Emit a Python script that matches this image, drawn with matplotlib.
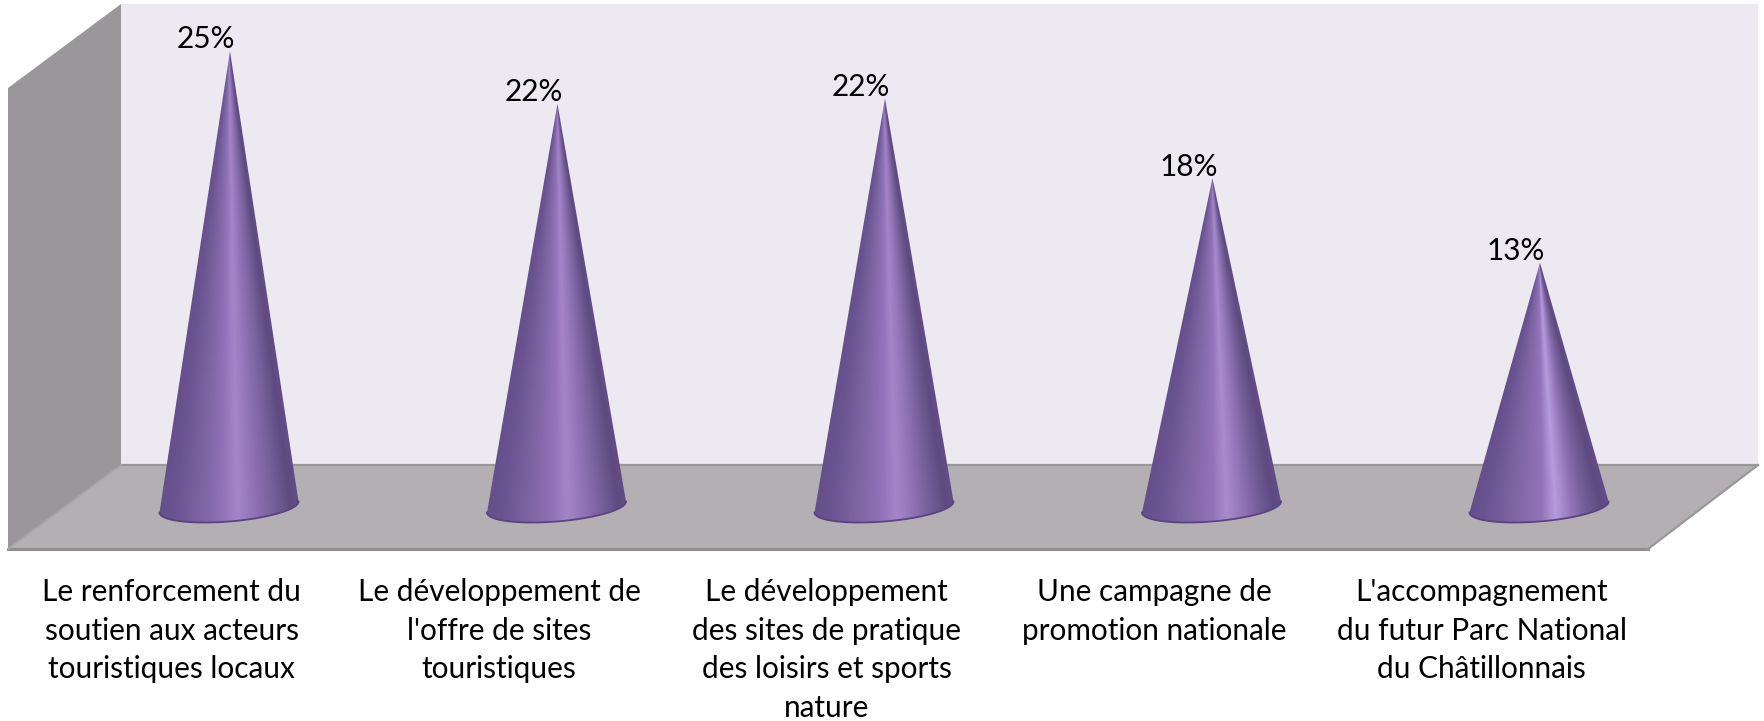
"""Cone chart: priorities for tourism in the Chatillonnais."""
import numpy as np
import matplotlib
matplotlib.use("Agg")
import matplotlib.pyplot as plt
from matplotlib.colors import LinearSegmentedColormap
from matplotlib.patches import Polygon, PathPatch
from matplotlib.path import Path

W, H = 1765, 721
plt.rcParams["font.family"] = ["Lato", "DejaVu Sans"]

categories = [
    "Le renforcement du\nsoutien aux acteurs\ntouristiques locaux",
    "Le développement de\nl'offre de sites\ntouristiques",
    "Le développement\ndes sites de pratique\ndes loisirs et sports\nnature",
    "Une campagne de\npromotion nationale",
    "L'accompagnement\ndu futur Parc National\ndu Châtillonnais",
]
values = [25.1, 22.2, 22.49, 18.1, 13.45]

# scale of the chart, in pixels
X0, X_STEP = 229, 327.5
Y0, Y_UNIT = 507, 18.16

fig = plt.figure(figsize=(W / 100, H / 100), dpi=100)

# box of the 3D chart, drawn in pixels
bg = fig.add_axes([0, 0, 1, 1])
bg.set_xlim(0, W)
bg.set_ylim(H, 0)
bg.axis("off")
bg.add_patch(Polygon([(121, 4), (1758, 4), (1758, 465), (121, 465)], fc="#ece9f1", ec="none"))
bg.add_patch(Polygon([(8, 88), (121, 4), (121, 465), (8, 549)], fc="#99979a", ec="none"))
bg.add_patch(Polygon([(8, 549), (121, 465), (1758, 465), (1648, 549)], fc="#b3afb3", ec="none"))
bg.plot([121, 1758], [465, 465], color="#989898", lw=1.6)
bg.plot([8, 1648], [549, 549], color="#8f8f8f", lw=2.2)
bg.plot([8, 121], [549, 465], color="#a8a6a8", lw=1.2)
bg.plot([1648, 1758], [549, 465], color="#989898", lw=1.6)

# data axes: x is the category index, y is the percentage
ax = fig.add_axes([0, 0, 1, 1], facecolor="none")
ax.set_xlim(-X0 / X_STEP, (W - X0) / X_STEP)
ax.set_ylim((Y0 - H) / Y_UNIT, Y0 / Y_UNIT)
ax.axis("off")

HALF_W = 69.5 / X_STEP
TILT = 5.5 / Y_UNIT
MINOR = 14.5 / Y_UNIT


def cone_cmap(shine, pos):
    return LinearSegmentedColormap.from_list("cone", [
        (0.0, "#64508a"), (0.1, "#6a5391"), (0.3, "#7d64a3"), (pos - 0.1, "#9273b8"), (pos, shine),
        (pos + 0.12, "#9073b6"), (0.82, "#77609c"), (0.95, "#5e4a80"), (1.0, "#634d88"),
    ])


for i, v in enumerate(values):
    shine = "#a486c8" if i < 3 else ("#a98ccd" if i == 3 else "#b69cdc")
    pos = 0.56 + 0.015 * i
    t = np.linspace(0, np.pi, 60)
    ex = i + HALF_W * np.cos(t)
    ey = TILT * np.cos(t) - MINOR * np.sin(t)
    # ellipse goes right -> left along the front, then up to the tip
    verts = [(i + 0.003, v)] + list(zip(ex, ey)) + [(i + 0.003, v)]
    codes = [Path.MOVETO] + [Path.LINETO] * (len(verts) - 2) + [Path.CLOSEPOLY]
    clip = PathPatch(Path(verts, codes), fc="none", ec="none", transform=ax.transData)
    ax.add_patch(clip)

    # shading follows the slant of the cone, so stripes meet at the tip
    xs = np.linspace(i - HALF_W * 1.02, i + HALF_W * 1.02, 240)
    ys = np.linspace(v, -MINOR * 1.2, 400)
    xx, yy = np.meshgrid(xs, ys)
    frac = np.clip(1 - yy / v, 0.004, 1.0)
    u = 0.5 + (xx - i) / (2 * HALF_W * frac)
    im = ax.imshow(np.clip(u, 0, 1), cmap=cone_cmap(shine, pos), vmin=0, vmax=1, aspect="auto",
                   extent=[xs[0], xs[-1], ys[-1], ys[0]], interpolation="bilinear", zorder=3)
    im.set_clip_path(clip)
    ax.plot(ex, ey, color="#594380", lw=1.3, zorder=4)

    ax.annotate(f"{v:.0f}%", (i, v), xytext=(-16.6, 2.0), textcoords="offset points",
                ha="center", va="baseline", fontsize=21.4, color="black", zorder=5)
    # labels sit left of the cones, first baseline about 93 px under the cone base
    ax.annotate(categories[i], (i, 0), xytext=(-41.3, -51), textcoords="offset points",
                ha="center", va="top", fontsize=21.4, color="black", linespacing=1.47,
                multialignment="center")

ax.set_xlim(-X0 / X_STEP, (W - X0) / X_STEP)
ax.set_ylim((Y0 - H) / Y_UNIT, Y0 / Y_UNIT)

fig.savefig("out.png", dpi=100)
plt.close(fig)
